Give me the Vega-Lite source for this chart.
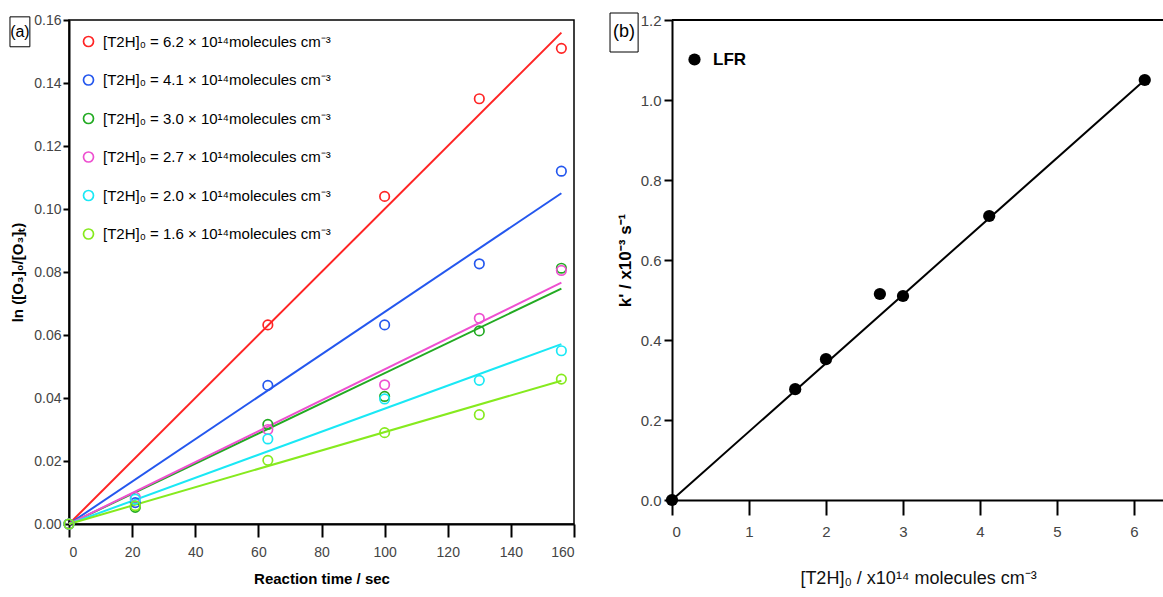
{
  "$schema": "https://vega.github.io/schema/vega-lite/v6.json",
  "padding": {"left": 8, "top": 12, "right": 0, "bottom": 5},
  "background": "white",
  "spacing": 98,
  "bounds": "flush",
  "resolve": {"scale": {"color": "independent"}, "legend": {"color": "independent"}},
  "datasets": {
    "kin": [
      {"c": "6.2", "t": 0, "v": 0, "kind": "obs"},
      {"c": "6.2", "t": 63, "v": 0.0632, "kind": "obs"},
      {"c": "6.2", "t": 100, "v": 0.104, "kind": "obs"},
      {"c": "6.2", "t": 130, "v": 0.135, "kind": "obs"},
      {"c": "6.2", "t": 156, "v": 0.151, "kind": "obs"},
      {"c": "4.1", "t": 0, "v": 0, "kind": "obs"},
      {"c": "4.1", "t": 21, "v": 0.0068, "kind": "obs"},
      {"c": "4.1", "t": 63, "v": 0.044, "kind": "obs"},
      {"c": "4.1", "t": 100, "v": 0.0632, "kind": "obs"},
      {"c": "4.1", "t": 130, "v": 0.0826, "kind": "obs"},
      {"c": "4.1", "t": 156, "v": 0.112, "kind": "obs"},
      {"c": "3.0", "t": 0, "v": 0, "kind": "obs"},
      {"c": "3.0", "t": 21, "v": 0.0053, "kind": "obs"},
      {"c": "3.0", "t": 63, "v": 0.0316, "kind": "obs"},
      {"c": "3.0", "t": 100, "v": 0.0405, "kind": "obs"},
      {"c": "3.0", "t": 130, "v": 0.0613, "kind": "obs"},
      {"c": "3.0", "t": 156, "v": 0.0812, "kind": "obs"},
      {"c": "2.7", "t": 0, "v": 0, "kind": "obs"},
      {"c": "2.7", "t": 21, "v": 0.0085, "kind": "obs"},
      {"c": "2.7", "t": 63, "v": 0.030, "kind": "obs"},
      {"c": "2.7", "t": 100, "v": 0.0442, "kind": "obs"},
      {"c": "2.7", "t": 130, "v": 0.0653, "kind": "obs"},
      {"c": "2.7", "t": 156, "v": 0.0805, "kind": "obs"},
      {"c": "2.0", "t": 0, "v": 0, "kind": "obs"},
      {"c": "2.0", "t": 21, "v": 0.0079, "kind": "obs"},
      {"c": "2.0", "t": 63, "v": 0.027, "kind": "obs"},
      {"c": "2.0", "t": 100, "v": 0.0397, "kind": "obs"},
      {"c": "2.0", "t": 130, "v": 0.0456, "kind": "obs"},
      {"c": "2.0", "t": 156, "v": 0.055, "kind": "obs"},
      {"c": "1.6", "t": 0, "v": 0, "kind": "obs"},
      {"c": "1.6", "t": 21, "v": 0.0058, "kind": "obs"},
      {"c": "1.6", "t": 63, "v": 0.0202, "kind": "obs"},
      {"c": "1.6", "t": 100, "v": 0.029, "kind": "obs"},
      {"c": "1.6", "t": 130, "v": 0.0347, "kind": "obs"},
      {"c": "1.6", "t": 156, "v": 0.046, "kind": "obs"},
      {"c": "6.2", "t": 0, "v": 0, "kind": "fit"},
      {"c": "6.2", "t": 156, "v": 0.156, "kind": "fit"},
      {"c": "4.1", "t": 0, "v": 0, "kind": "fit"},
      {"c": "4.1", "t": 156, "v": 0.105, "kind": "fit"},
      {"c": "3.0", "t": 0, "v": 0, "kind": "fit"},
      {"c": "3.0", "t": 156, "v": 0.0747, "kind": "fit"},
      {"c": "2.7", "t": 0, "v": 0, "kind": "fit"},
      {"c": "2.7", "t": 156, "v": 0.0766, "kind": "fit"},
      {"c": "2.0", "t": 0, "v": 0, "kind": "fit"},
      {"c": "2.0", "t": 156, "v": 0.0571, "kind": "fit"},
      {"c": "1.6", "t": 0, "v": 0, "kind": "fit"},
      {"c": "1.6", "t": 156, "v": 0.0455, "kind": "fit"}
    ],
    "lfr": [
      {"series": "LFR", "conc": 0, "k": 0, "kind": "obs"},
      {"series": "LFR", "conc": 1.6, "k": 0.277, "kind": "obs"},
      {"series": "LFR", "conc": 2.0, "k": 0.352, "kind": "obs"},
      {"series": "LFR", "conc": 2.7, "k": 0.515, "kind": "obs"},
      {"series": "LFR", "conc": 3.0, "k": 0.51, "kind": "obs"},
      {"series": "LFR", "conc": 4.12, "k": 0.71, "kind": "obs"},
      {"series": "LFR", "conc": 6.14, "k": 1.05, "kind": "obs"},
      {"series": "LFR", "conc": 0, "k": 0, "kind": "fit"},
      {"series": "LFR", "conc": 6.14, "k": 1.05, "kind": "fit"}
    ]
  },
  "hconcat": [
    {
      "width": 505,
      "height": 504,
      "view": {"stroke": "black", "strokeWidth": 1.5},
      "data": {"name": "kin"},
      "resolve": {"legend": {"color": "independent"}},
      "encoding": {
        "x": {"field": "t", "type": "quantitative", "scale": {"domain": [0, 160], "nice": false, "zero": false},
          "axis": {"values": [0, 20, 40, 60, 80, 100, 120, 140, 160], "tickSize": 13, "labelPadding": 8, "labelFontSize": 14,
            "title": "Reaction time / sec", "titleFontSize": 15, "titleFontWeight": "bold", "titlePadding": 12}},
        "y": {"field": "v", "type": "quantitative", "scale": {"domain": [0, 0.16], "nice": false, "zero": false},
          "axis": {"values": [0, 0.02, 0.04, 0.06, 0.08, 0.1, 0.12, 0.14, 0.16], "format": ".2f", "tickSize": 6, "labelPadding": 2, "labelFontSize": 14,
            "title": "ln ([O₃]₀/[O₃]ₜ)", "titleFontSize": 15, "titleFontWeight": "bold", "titlePadding": 8}}
      },
      "layer": [
        {
          "transform": [{"filter": "datum.kind === 'fit'"}],
          "mark": {"type": "line", "strokeWidth": 2},
          "encoding": {
            "color": {"field": "c", "type": "nominal", "legend": null,
              "scale": {"domain": ["6.2", "4.1", "3.0", "2.7", "2.0", "1.6"], "range": ["#ff2424", "#2457ee", "#22aa22", "#ee50d0", "#1ae8f5", "#86ea1e"]}},
            "detail": {"field": "c"}
          }
        },
        {
          "transform": [{"filter": "datum.kind === 'obs'"}],
          "mark": {"type": "point", "shape": "circle", "filled": false, "strokeWidth": 1.7, "size": 90, "opacity": 1},
          "encoding": {
            "color": {"field": "c", "type": "nominal",
              "scale": {"domain": ["6.2", "4.1", "3.0", "2.7", "2.0", "1.6"], "range": ["#ff2424", "#2457ee", "#22aa22", "#ee50d0", "#1ae8f5", "#86ea1e"]},
              "legend": {"orient": "none", "legendX": 12, "legendY": 14, "title": null, "labelFontSize": 15, "labelColor": "black",
                "rowPadding": 21.5, "symbolSize": 100, "symbolStrokeWidth": 1.7, "labelOffset": 7, "labelLimit": 400,
                "labelExpr": "'[T2H]₀ = ' + datum.label + ' × 10¹⁴molecules cm⁻³'"}}
          }
        },
        {
          "transform": [{"filter": "datum.kind === 'fit' && datum.c === '6.2' && datum.t === 0"}],
          "mark": {"type": "rect", "fill": "white", "stroke": "black", "strokeWidth": 1},
          "encoding": {
            "x": {"datum": -18.7, "type": "quantitative"},
            "x2": {"datum": -12.4},
            "y": {"datum": 0.1515, "type": "quantitative"},
            "y2": {"datum": 0.1610}
          }
        },
        {
          "transform": [{"filter": "datum.kind === 'fit' && datum.c === '6.2' && datum.t === 0"}],
          "mark": {"type": "text", "text": "(a)", "fontSize": 16, "color": "black", "align": "center", "baseline": "middle"},
          "encoding": {
            "x": {"datum": -15.55, "type": "quantitative"},
            "y": {"datum": 0.1563, "type": "quantitative"}
          }
        }
      ]
    },
    {
      "width": 492,
      "height": 480,
      "data": {"name": "lfr"},
      "encoding": {
        "x": {"field": "conc", "type": "quantitative", "scale": {"domain": [0, 6.39], "nice": false, "zero": false},
          "axis": {"values": [0, 1, 2, 3, 4, 5, 6], "tickSize": 15, "labelPadding": 9, "labelFontSize": 15,
            "title": "[T2H]₀ / x10¹⁴  molecules cm⁻³", "titleFontSize": 18, "titleFontWeight": "normal", "titleColor": "#111", "titlePadding": 30}},
        "y": {"field": "k", "type": "quantitative", "scale": {"domain": [0, 1.2], "nice": false, "zero": false},
          "axis": {"values": [0, 0.2, 0.4, 0.6, 0.8, 1.0, 1.2], "format": ".1f", "tickSize": 8, "labelPadding": 3, "labelFontSize": 15,
            "title": "k' / x10⁻³   s⁻¹", "titleFontSize": 17, "titleFontWeight": "bold", "titlePadding": 6}}
      },
      "layer": [
        {
          "transform": [{"filter": "datum.kind === 'fit' && datum.conc === 0"}],
          "mark": {"type": "rule", "color": "black", "strokeWidth": 2},
          "encoding": {
            "x": {"datum": 0, "type": "quantitative"},
            "x2": {"datum": 6.39},
            "y": {"datum": 1.2, "type": "quantitative"}
          }
        },
        {
          "transform": [{"filter": "datum.kind === 'fit'"}],
          "mark": {"type": "line", "strokeWidth": 2, "color": "black"},
          "encoding": {}
        },
        {
          "transform": [{"filter": "datum.kind === 'obs'"}],
          "mark": {"type": "point", "shape": "circle", "filled": true, "size": 150, "opacity": 1},
          "encoding": {
            "color": {"field": "series", "type": "nominal", "scale": {"domain": ["LFR"], "range": ["black"]},
              "legend": {"orient": "none", "legendX": 14, "legendY": 31, "title": null, "labelFontSize": 17, "labelFontWeight": "bold",
                "labelColor": "black", "symbolSize": 150, "symbolType": "circle", "labelOffset": 10}}
          }
        },
        {
          "transform": [{"filter": "datum.kind === 'fit' && datum.conc === 0"}],
          "mark": {"type": "rect", "fill": "white", "stroke": "black", "strokeWidth": 1},
          "encoding": {
            "x": {"datum": -0.805, "type": "quantitative"},
            "x2": {"datum": -0.44},
            "y": {"datum": 1.12, "type": "quantitative"},
            "y2": {"datum": 1.2175}
          }
        },
        {
          "transform": [{"filter": "datum.kind === 'fit' && datum.conc === 0"}],
          "mark": {"type": "text", "text": "(b)", "fontSize": 18, "color": "black", "align": "center", "baseline": "middle"},
          "encoding": {
            "x": {"datum": -0.623, "type": "quantitative"},
            "y": {"datum": 1.169, "type": "quantitative"}
          }
        }
      ]
    }
  ],
  "config": {
    "font": "Liberation Sans",
    "view": {"stroke": null},
    "axis": {"domainColor": "black", "domainWidth": 2, "tickColor": "black", "tickWidth": 2, "labelColor": "#444",
      "grid": false, "titleColor": "black"},
    "legend": {"padding": 0}
  }
}
